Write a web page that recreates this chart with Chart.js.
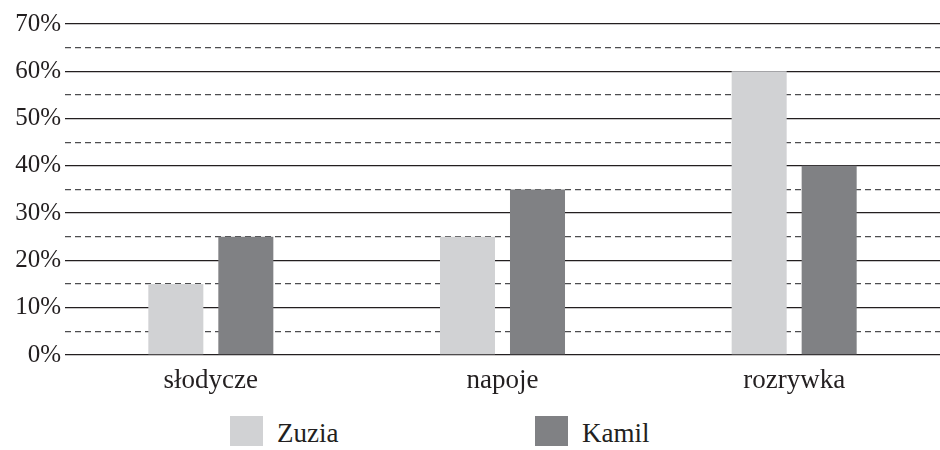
<!DOCTYPE html>
<html>
<head>
<meta charset="utf-8">
<script src="https://cdn.jsdelivr.net/npm/chart.js@4"></script>
<style>
  body { margin: 0; background: #fff; font-family: "Liberation Serif", serif; }
  #wrap { width: 940px; height: 391px; margin-top: 5px; position: relative; }
  #legend { position: relative; height: 50px; }
  .item { position: absolute; top: 20px; display: flex; align-items: center; font-size: 27px; color: #231f20; }
  .box { width: 33px; height: 34px; margin-right: 14px; }
</style>
</head>
<body>
<div id="wrap"><canvas id="chart"></canvas></div>
<div id="legend"></div>
<script>
const categories = ["słodycze", "napoje", "rozrywka"];
const zuzia = [15, 25, 60];
const kamil = [25, 35, 40];
const seriesNames = ["Zuzia", "Kamil"];
const seriesColors = ["#d1d2d4", "#808184"];
const yTicks = [0, 10, 20, 30, 40, 50, 60, 70];

const family = "'Liberation Serif', serif";

new Chart(document.getElementById("chart"), {
  type: "bar",
  data: {
    labels: categories,
    datasets: [
      { label: seriesNames[0], data: zuzia, backgroundColor: seriesColors[0] },
      { label: seriesNames[1], data: kamil, backgroundColor: seriesColors[1] }
    ]
  },
  options: {
    responsive: true,
    maintainAspectRatio: false,
    animation: false,
    layout: { padding: { top: 16, right: 0, bottom: 0, left: 0 } },
    datasets: { bar: { categoryPercentage: 0.48, barPercentage: 0.786 } },
    plugins: { legend: { display: false }, tooltip: { enabled: false } },
    scales: {
      x: {
        grid: { display: false },
        border: { display: false },
        ticks: { color: "#231f20", font: { family, size: 27 }, padding: 2 },
        afterFit: s => { s.height = 41; }
      },
      y: {
        min: 0, max: 70,
        ticks: {
          stepSize: 5,
          autoSkip: false,
          color: "#231f20",
          font: { family, size: 25 },
          padding: 4,
          callback: v => yTicks.includes(v) ? v + "%" : ""
        },
        afterFit: s => { s.width = 65; },
        grid: {
          drawTicks: false,
          lineWidth: 1.3,
          color: ctx => (ctx.tick && ctx.tick.value % 10 === 0) ? "#231f20" : "#4d4d4f"
        },
        border: {
          display: false,
          dash: ctx => (ctx.tick && ctx.tick.value % 10 === 0) ? [] : [6, 4]
        }
      }
    }
  }
});

// html legend built from the series arrays
const legend = document.getElementById("legend");
const legendX = [230, 535];
seriesNames.forEach((name, i) => {
  const el = document.createElement("div");
  el.className = "item";
  el.style.left = legendX[i] + "px";
  el.innerHTML = `<span class="box" style="background:${seriesColors[i]}"></span>${name}`;
  legend.appendChild(el);
});
</script>
</body>
</html>
